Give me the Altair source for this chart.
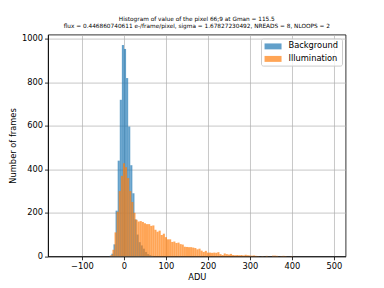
import altair as alt
import pandas as pd

# Background histogram: bin left edges (ADU) and counts (bin width 5)
bg_left = [-35, -30, -25, -20, -15, -10, -5, 0, 5, 10, 15, 20, 25, 30, 35, 40, 45, 50, 55, 60, 65]
bg_count = [2, 12, 55, 210, 440, 720, 972, 954, 820, 597, 419, 290, 170, 100, 65, 50, 35, 20, 10, 5, 2]

# Illumination histogram: bin centres (ADU) and counts (bin width 5)
il_center = [-30, -25, -20, -15, -10, -5, 0, 5, 10, 15, 20, 25, 30, 35, 40, 45, 50, 55, 60, 65,
             70, 75, 80, 85, 90, 95, 100, 105, 110, 115, 120, 125, 130, 135, 140, 145, 150, 155,
             160, 165, 170, 175, 180, 185, 190, 195, 200, 205, 210, 215, 220, 225, 230, 235, 240,
             245, 250, 255, 260, 265, 270, 275, 280, 285, 290, 295, 300, 305, 310, 315, 320, 330,
             340, 355, 360, 365, 375, 380, 385, 400]
il_count = [5, 30, 110, 205, 300, 370, 428, 410, 360, 300, 250, 200, 168, 160, 162, 158, 152, 148, 148, 140,
            142, 122, 113, 118, 98, 104, 88, 78, 78, 66, 68, 61, 63, 56, 54, 44, 43, 42,
            42, 40, 38, 32, 35, 26, 20, 25, 17, 17, 16, 17, 16, 19, 10, 6, 13,
            10, 8, 11, 6, 5, 6, 5, 6, 4, 7, 5, 4, 3, 4, 2, 1, 1,
            2, 3, 3, 2, 1, 2, 1, 1]

series_names = ["Background", "Illumination"]
series_colors = ["#1f77b4", "#ff7f0e"]
x_ticks = [-100, 0, 100, 200, 300, 400, 500]
y_ticks = [0, 200, 400, 600, 800, 1000]

rows = []
for l, c in zip(bg_left, bg_count):
    rows.append({"series": "Background", "x0": l, "x1": l + 5, "count": c, "base": 0})
for m, c in zip(il_center, il_count):
    rows.append({"series": "Illumination", "x0": m - 2.5, "x1": m + 2.5, "count": c, "base": 0})
df = pd.DataFrame(rows)

FONT = "DejaVu Sans"

chart = alt.Chart(df).mark_bar(opacity=0.7, strokeWidth=0).encode(
    x=alt.X("x0:Q", scale=alt.Scale(domain=[-181, 528], nice=False, zero=False),
            axis=alt.Axis(values=x_ticks, title="ADU")),
    x2="x1:Q",
    y=alt.Y("count:Q", stack=None, scale=alt.Scale(domain=[0, 1020], nice=False),
            axis=alt.Axis(values=y_ticks, title="Number of frames", format="d")),
    y2="base:Q",
    color=alt.Color("series:N",
                    scale=alt.Scale(domain=series_names, range=series_colors),
                    legend=alt.Legend(title=None, orient="top-right", offset=4, padding=3.3,
                                      strokeColor="#cccccc", fillColor="rgba(255,255,255,0.8)",
                                      cornerRadius=2, labelFontSize=8.3, labelFont=FONT,
                                      labelColor="black",
                                      symbolType="M-1,-0.7H3V0.7H-1Z", symbolSize=72.25,
                                      symbolOpacity=0.7, symbolStrokeWidth=0,
                                      labelOffset=15.2, rowPadding=3.5)),
).properties(
    width=297.6,
    height=221.7,
    autosize=alt.AutoSizeParams(type="none"),
    padding={"left": 40, "top": 26.6, "right": 30, "bottom": 24},
    title=alt.Title(["Histogram of value of the pixel 66;9 at Gman = 115.5",
                     "flux = 0.446860740611 e-/frame/pixel, sigma = 1.67827230492, NREADS = 8, NLOOPS = 2"],
                    fontSize=5.8, fontWeight="normal", font=FONT, offset=5, lineHeight=6.7,
                    anchor="middle", color="black"),
).configure_view(
    stroke="black", strokeWidth=0.8
).configure_axis(
    grid=True, gridColor="#b0b0b0", gridWidth=0.7, domainColor="black", domainWidth=0.8,
    tickColor="black", tickSize=3.5, tickWidth=0.8,
    labelFont=FONT, labelFontSize=8.3, labelColor="black", labelPadding=2,
    titleFont=FONT, titleFontSize=8.3, titleColor="black", titleFontWeight="normal",
    zindex=1
).configure_axisY(titlePadding=4).configure_axisX(titlePadding=2)

chart.save("out.html", embed_options={"renderer": "svg", "actions": False})
